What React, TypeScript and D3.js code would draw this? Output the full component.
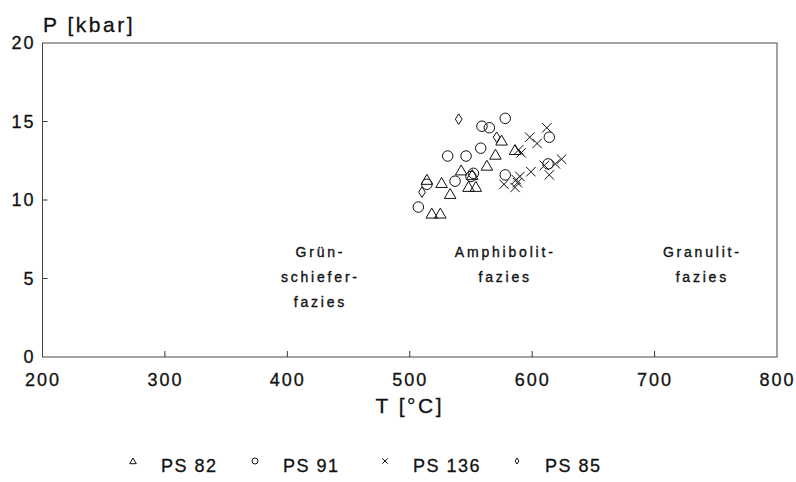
import { useEffect, useRef } from 'react';
import * as d3 from 'd3';

// [T °C, P kbar]
const ps82: [number, number][] = [
  [575, 13.8], [570, 12.9], [586, 13.2], [563, 12.2], [542, 11.9], [551, 11.6],
  [526, 11.1], [548, 10.85], [554, 10.85], [533, 10.4], [514, 11.3], [518, 9.15], [525, 9.15],
];
const ps91: [number, number][] = [
  [578, 15.2], [559, 14.7], [565, 14.6], [558, 13.3], [531, 12.8], [546, 12.8],
  [614, 14.0], [613, 12.3], [552, 11.7], [550, 11.5], [537, 11.2], [578, 11.6],
  [514, 11.0], [507, 9.55],
];
const ps136: [number, number][] = [
  [612, 14.6], [598, 14.0], [604, 13.6], [589, 13.2], [591, 13.0], [624, 12.6],
  [619, 12.3], [610, 12.2], [614, 11.6], [599, 11.8], [590, 11.5], [588, 11.1],
  [587, 11.3], [577, 11.0], [586, 10.8],
];
const ps85: [number, number][] = [
  [540, 15.15], [571, 14.0], [510, 10.5],
];

const xTicks = [200, 300, 400, 500, 600, 700, 800];
const yTicks = [0, 5, 10, 15, 20];

const faciesLabels: { t: number; p: number; lines: string[] }[] = [
  { t: 427, p: 6.4, lines: ['Grün-', 'schiefer-', 'fazies'] },
  { t: 578, p: 6.4, lines: ['Amphibolit-', 'fazies'] },
  { t: 739, p: 6.4, lines: ['Granulit-', 'fazies'] },
];

const legendItems = [
  { label: 'PS 82', shape: 'tri' },
  { label: 'PS 91', shape: 'circ' },
  { label: 'PS 136', shape: 'cross' },
  { label: 'PS 85', shape: 'dia' },
];

const FONT = '"Liberation Sans", Arial, sans-serif';

const App = () => {
  const svgRef = useRef<SVGSVGElement | null>(null);

  const width = 796;
  const height = 482;
  const marginTop = 43;
  const marginRight = 19;
  const marginBottom = 125;
  const marginLeft = 42.5;

  useEffect(() => {
    const svgElement = svgRef.current;
    if (!svgElement) return;

    const svg = d3.select(svgElement);
    svg.selectAll('*').remove();

    const x = d3.scaleLinear().domain([200, 800]).range([marginLeft, width - marginRight]);
    const y = d3.scaleLinear().domain([0, 20]).range([height - marginBottom, marginTop]);

    const ink = '#111';

    // frame
    svg.append('rect')
      .attr('x', x(200)).attr('y', y(20))
      .attr('width', x(800) - x(200)).attr('height', y(0) - y(20))
      .attr('fill', 'none').attr('stroke', '#444').attr('stroke-width', 1);

    // x axis
    const xAxis = svg.append('g')
      .attr('transform', `translate(0,${y(0)})`)
      .call(d3.axisBottom(x).tickValues(xTicks).tickSize(0).tickPadding(16).tickFormat(d3.format('d')));
    xAxis.select('.domain').remove();
    xAxis.selectAll('text')
      .attr('font-family', FONT).attr('font-size', 18).attr('letter-spacing', 2)
      .attr('fill', ink).attr('stroke', ink).attr('stroke-width', 0.3);
    svg.append('g').selectAll('line')
      .data(xTicks.slice(1, -1))
      .join('line')
      .attr('x1', d => x(d)).attr('x2', d => x(d))
      .attr('y1', y(0)).attr('y2', y(0) - 6)
      .attr('stroke', '#333');

    // y axis
    const yAxis = svg.append('g')
      .attr('transform', `translate(${x(200)},0)`)
      .call(d3.axisLeft(y).tickValues(yTicks).tickSize(0).tickPadding(7));
    yAxis.select('.domain').remove();
    yAxis.selectAll('text')
      .attr('font-family', FONT).attr('font-size', 18).attr('letter-spacing', 2)
      .attr('fill', ink).attr('stroke', ink).attr('stroke-width', 0.3);
    svg.append('g').selectAll('line')
      .data(yTicks.slice(1, -1))
      .join('line')
      .attr('x1', x(200)).attr('x2', x(200) + 5)
      .attr('y1', d => y(d)).attr('y2', d => y(d))
      .attr('stroke', '#333');

    // axis titles
    svg.append('text')
      .attr('x', 43).attr('y', 32)
      .attr('font-family', FONT).attr('font-size', 21).attr('letter-spacing', 2.5)
      .attr('fill', ink).attr('stroke', ink).attr('stroke-width', 0.3)
      .text('P [kbar]');
    svg.append('text')
      .attr('x', x(500)).attr('y', 413)
      .attr('text-anchor', 'middle')
      .attr('font-family', FONT).attr('font-size', 21).attr('letter-spacing', 2.5)
      .attr('fill', ink).attr('stroke', ink).attr('stroke-width', 0.3)
      .text('T [°C]');

    // facies labels
    faciesLabels.forEach(f => {
      const t = svg.append('text')
        .attr('font-family', FONT).attr('font-size', 14).attr('letter-spacing', 2.8)
        .attr('fill', ink).attr('stroke', ink).attr('stroke-width', 0.35)
        .attr('text-anchor', 'middle');
      f.lines.forEach((line, i) => {
        t.append('tspan')
          .attr('x', x(f.t)).attr('y', y(f.p) + i * 25)
          .text(line);
      });
    });

    // marker shapes
    const drawMarker = (g: d3.Selection<SVGGElement, unknown, null, undefined>, shape: string, cx: number, cy: number, s: number) => {
      if (shape === 'tri') {
        g.append('path')
          .attr('d', `M${cx},${cy - s * 0.5}L${cx + s * 0.55},${cy + s * 0.45}L${cx - s * 0.55},${cy + s * 0.45}Z`)
          .attr('fill', 'none').attr('stroke', ink).attr('stroke-width', 1);
      } else if (shape === 'circ') {
        g.append('circle').attr('cx', cx).attr('cy', cy).attr('r', s * 0.5)
          .attr('fill', 'none').attr('stroke', ink).attr('stroke-width', 1);
      } else if (shape === 'cross') {
        const h = s * 0.45;
        g.append('path')
          .attr('d', `M${cx - h},${cy - h}L${cx + h},${cy + h}M${cx - h},${cy + h}L${cx + h},${cy - h}`)
          .attr('stroke', ink).attr('stroke-width', 1);
      } else {
        g.append('path')
          .attr('d', `M${cx},${cy - s * 0.5}L${cx + s * 0.32},${cy}L${cx},${cy + s * 0.5}L${cx - s * 0.32},${cy}Z`)
          .attr('fill', 'none').attr('stroke', ink).attr('stroke-width', 1);
      }
    };

    const series: [string, [number, number][]][] = [
      ['tri', ps82], ['circ', ps91], ['cross', ps136], ['dia', ps85],
    ];
    const pts = svg.append('g');
    series.forEach(([shape, data]) => {
      data.forEach(([t, p]) => drawMarker(pts, shape, x(t), y(p), 10.5));
    });

    // legend
    const legendX = [133, 255, 385, 517];
    const lg = svg.append('g');
    legendItems.forEach((item, i) => {
      drawMarker(lg, item.shape, legendX[i], 461, 6);
      lg.append('text')
        .attr('x', legendX[i] + 28).attr('y', 472)
        .attr('font-family', FONT).attr('font-size', 18).attr('letter-spacing', 1.5)
        .attr('fill', ink).attr('stroke', ink).attr('stroke-width', 0.3)
        .text(item.label);
    });
  }, []);

  return (
    <div>
      <svg
        ref={svgRef}
        width={width}
        height={height}
        style={{ display: 'block', position: 'absolute', left: 0, top: 0, background: '#fff' }}
      />
    </div>
  );
};

export default App;
